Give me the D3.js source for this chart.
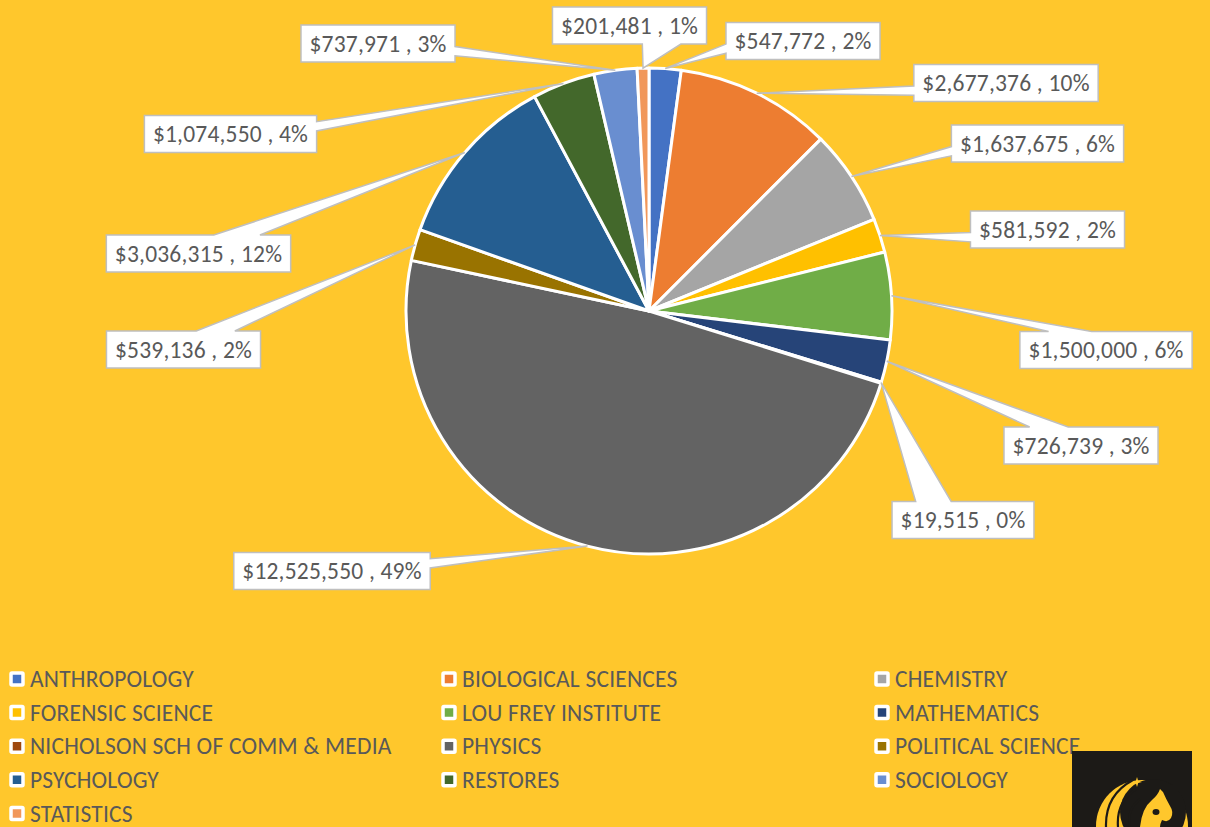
<!DOCTYPE html>
<html>
<head>
<meta charset="utf-8">
<script src="https://cdn.jsdelivr.net/npm/d3@7"></script>
<style>
  html, body { margin: 0; padding: 0; background: #FFC72C; }
  svg { display: block; }
  text { font-family: Calibri, Carlito, Lato, sans-serif; fill: #595959; letter-spacing: 0.2px; }
</style>
</head>
<body>
<svg id="chart" width="1210" height="827"></svg>
<script>
// Funding by department
const departments = [
  "ANTHROPOLOGY", "BIOLOGICAL SCIENCES", "CHEMISTRY", "FORENSIC SCIENCE",
  "LOU FREY INSTITUTE", "MATHEMATICS", "NICHOLSON SCH OF COMM & MEDIA", "PHYSICS",
  "POLITICAL SCIENCE", "PSYCHOLOGY", "RESTORES", "SOCIOLOGY", "STATISTICS"
];
const amounts = [
  547772, 2677376, 1637675, 581592,
  1500000, 726739, 19515, 12525550,
  539136, 3036315, 1074550, 737971, 201481
];
const sliceColors = [
  "#4472C4", "#ED7D31", "#A5A5A5", "#FFC000",
  "#70AD47", "#264478", "#9E480E", "#636363",
  "#997300", "#255E91", "#43682B", "#698ED0", "#F1975A"
];
// Callout box centres, relative to the pie centre
const calloutOffsets = [
  [154, -270], [357, -228], [388.5, -167.5], [398.5, -81.5],
  [457, 39], [432, 134.5], [314, 209], [-317, 260],
  [-465.5, 38.5], [-450.5, -57.5], [-418.5, -177], [-271, -267.5], [-19.5, -285.5]
];

const W = 1210, H = 827;
const cx = 649, cy = 311, R = 243;
const FONT = 23.5;

const svg = d3.select("#chart");
svg.append("rect").attr("width", W).attr("height", H).attr("fill", "#FFC72C");

const total = d3.sum(amounts);
const fmtMoney = d3.format("$,");
const data = departments.map((name, i) => ({ name, value: amounts[i], color: sliceColors[i], off: calloutOffsets[i] }));

const pie = d3.pie().sort(null).value(d => d.value);
const arcs = pie(data);
const arcGen = d3.arc().innerRadius(0).outerRadius(R);

const g = svg.append("g").attr("transform", `translate(${cx},${cy})`);
g.selectAll("path.slice").data(arcs).join("path")
  .attr("class", "slice")
  .attr("d", arcGen)
  .attr("fill", d => d.data.color)
  .attr("stroke", "#fff")
  .attr("stroke-width", 3)
  .attr("stroke-linejoin", "round");

// Callout labels with wedge pointers (rectangular callout geometry)
const labels = g.append("g");
arcs.forEach(a => {
  const mid = (a.startAngle + a.endAngle) / 2;
  const tip = [R * Math.sin(mid), -R * Math.cos(mid)];
  const txt = `${fmtMoney(a.data.value)} , ${Math.round(a.data.value / total * 100)}%`;
  const grp = labels.append("g");
  const path = grp.append("path");
  const t = grp.append("text")
    .attr("font-size", FONT)
    .attr("text-anchor", "middle")
    .attr("x", a.data.off[0])
    .attr("y", a.data.off[1])
    .attr("dy", "0.35em")
    .text(txt);
  const tw = t.node().getComputedTextLength();
  const w = tw + 17, h = 37;
  const l = a.data.off[0] - w / 2, r = l + w, tp = a.data.off[1] - h / 2, b = tp + h;
  const dxPos = tip[0] - a.data.off[0], dyPos = tip[1] - a.data.off[1];
  const dq = dxPos * h / w;
  const xg1 = dxPos > 0 ? 7 : 2, xg2 = dxPos > 0 ? 10 : 5;
  const yg1 = dyPos > 0 ? 7 : 2, yg2 = dyPos > 0 ? 10 : 5;
  const x1 = l + w * xg1 / 12, x2 = l + w * xg2 / 12;
  const y1 = tp + h * yg1 / 12, y2 = tp + h * yg2 / 12;
  const pts = [];
  if (Math.abs(dyPos) > Math.abs(dq)) {
    if (dyPos < 0) {
      pts.push([l, tp], [x1, tp], tip, [x2, tp], [r, tp], [r, b], [l, b]);
    } else {
      pts.push([l, tp], [r, tp], [r, b], [x2, b], tip, [x1, b], [l, b]);
    }
  } else {
    if (dxPos > 0) {
      pts.push([l, tp], [r, tp], [r, y1], tip, [r, y2], [r, b], [l, b]);
    } else {
      pts.push([l, tp], [r, tp], [r, b], [l, b], [l, y2], tip, [l, y1]);
    }
  }
  path.attr("d", "M" + pts.map(p => p.join(",")).join("L") + "Z")
    .attr("fill", "#fff")
    .attr("stroke", "#BFBFBF")
    .attr("stroke-width", 1.5)
    .attr("stroke-linejoin", "miter");
});

// Legend: three columns
const legendCols = [17, 449, 882];
const legendRow0 = 679, legendStep = 33.6;
const legend = svg.append("g");
data.forEach((d, i) => {
  const col = i % 3, row = Math.floor(i / 3);
  const x = legendCols[col], y = legendRow0 + row * legendStep;
  legend.append("rect")
    .attr("x", x - 6).attr("y", y - 6).attr("width", 12).attr("height", 12)
    .attr("rx", 1)
    .attr("fill", d.color).attr("stroke", "#fff").attr("stroke-width", 3.5);
  legend.append("text")
    .attr("x", x + 13).attr("y", y).attr("dy", "0.35em")
    .attr("font-size", FONT)
    .text(d.name);
});

// Emblem in the corner
const logo = svg.append("g");
logo.append("clipPath").attr("id", "logoClip")
  .append("rect").attr("x", 1072).attr("y", 751).attr("width", 120).attr("height", 76);
logo.append("rect").attr("x", 1072).attr("y", 751).attr("width", 120).attr("height", 76).attr("fill", "#1c1a17");
const em = logo.append("g").attr("clip-path", "url(#logoClip)");
em.append("circle").attr("cx", 1142).attr("cy", 826).attr("r", 46).attr("fill", "#FFC72C");
em.append("circle").attr("cx", 1153).attr("cy", 812).attr("r", 33).attr("fill", "#1c1a17");
// feathers
em.append("path").attr("d", "M1106,827 Q1105,795 1133,780").attr("fill", "none").attr("stroke", "#1c1a17").attr("stroke-width", 2.2);
em.append("path").attr("d", "M1118,827 Q1116,802 1136,789").attr("fill", "none").attr("stroke", "#1c1a17").attr("stroke-width", 2.2);
em.append("path").attr("d", "M1130,827 Q1126,810 1140,799").attr("fill", "none").attr("stroke", "#1c1a17").attr("stroke-width", 2);
// head facing right
em.append("path").attr("d", "M1140,827 Q1142,808 1152,800 Q1158,795 1160,789 L1163,792 Q1166,799 1170,806 Q1174,812 1171,818 Q1168,823 1162,820 Q1160,824 1160,827 Z").attr("fill", "#FFC72C");
em.append("ellipse").attr("cx", 1156).attr("cy", 812).attr("rx", 3.5).attr("ry", 3).attr("fill", "#1c1a17");
// star
em.append("path").attr("d", "M1137,777 L1138.2,781 L1142,782 L1138.2,783 L1137,787 L1135.8,783 L1132,782 L1135.8,781 Z").attr("fill", "#FFC72C");
</script>
</body>
</html>
